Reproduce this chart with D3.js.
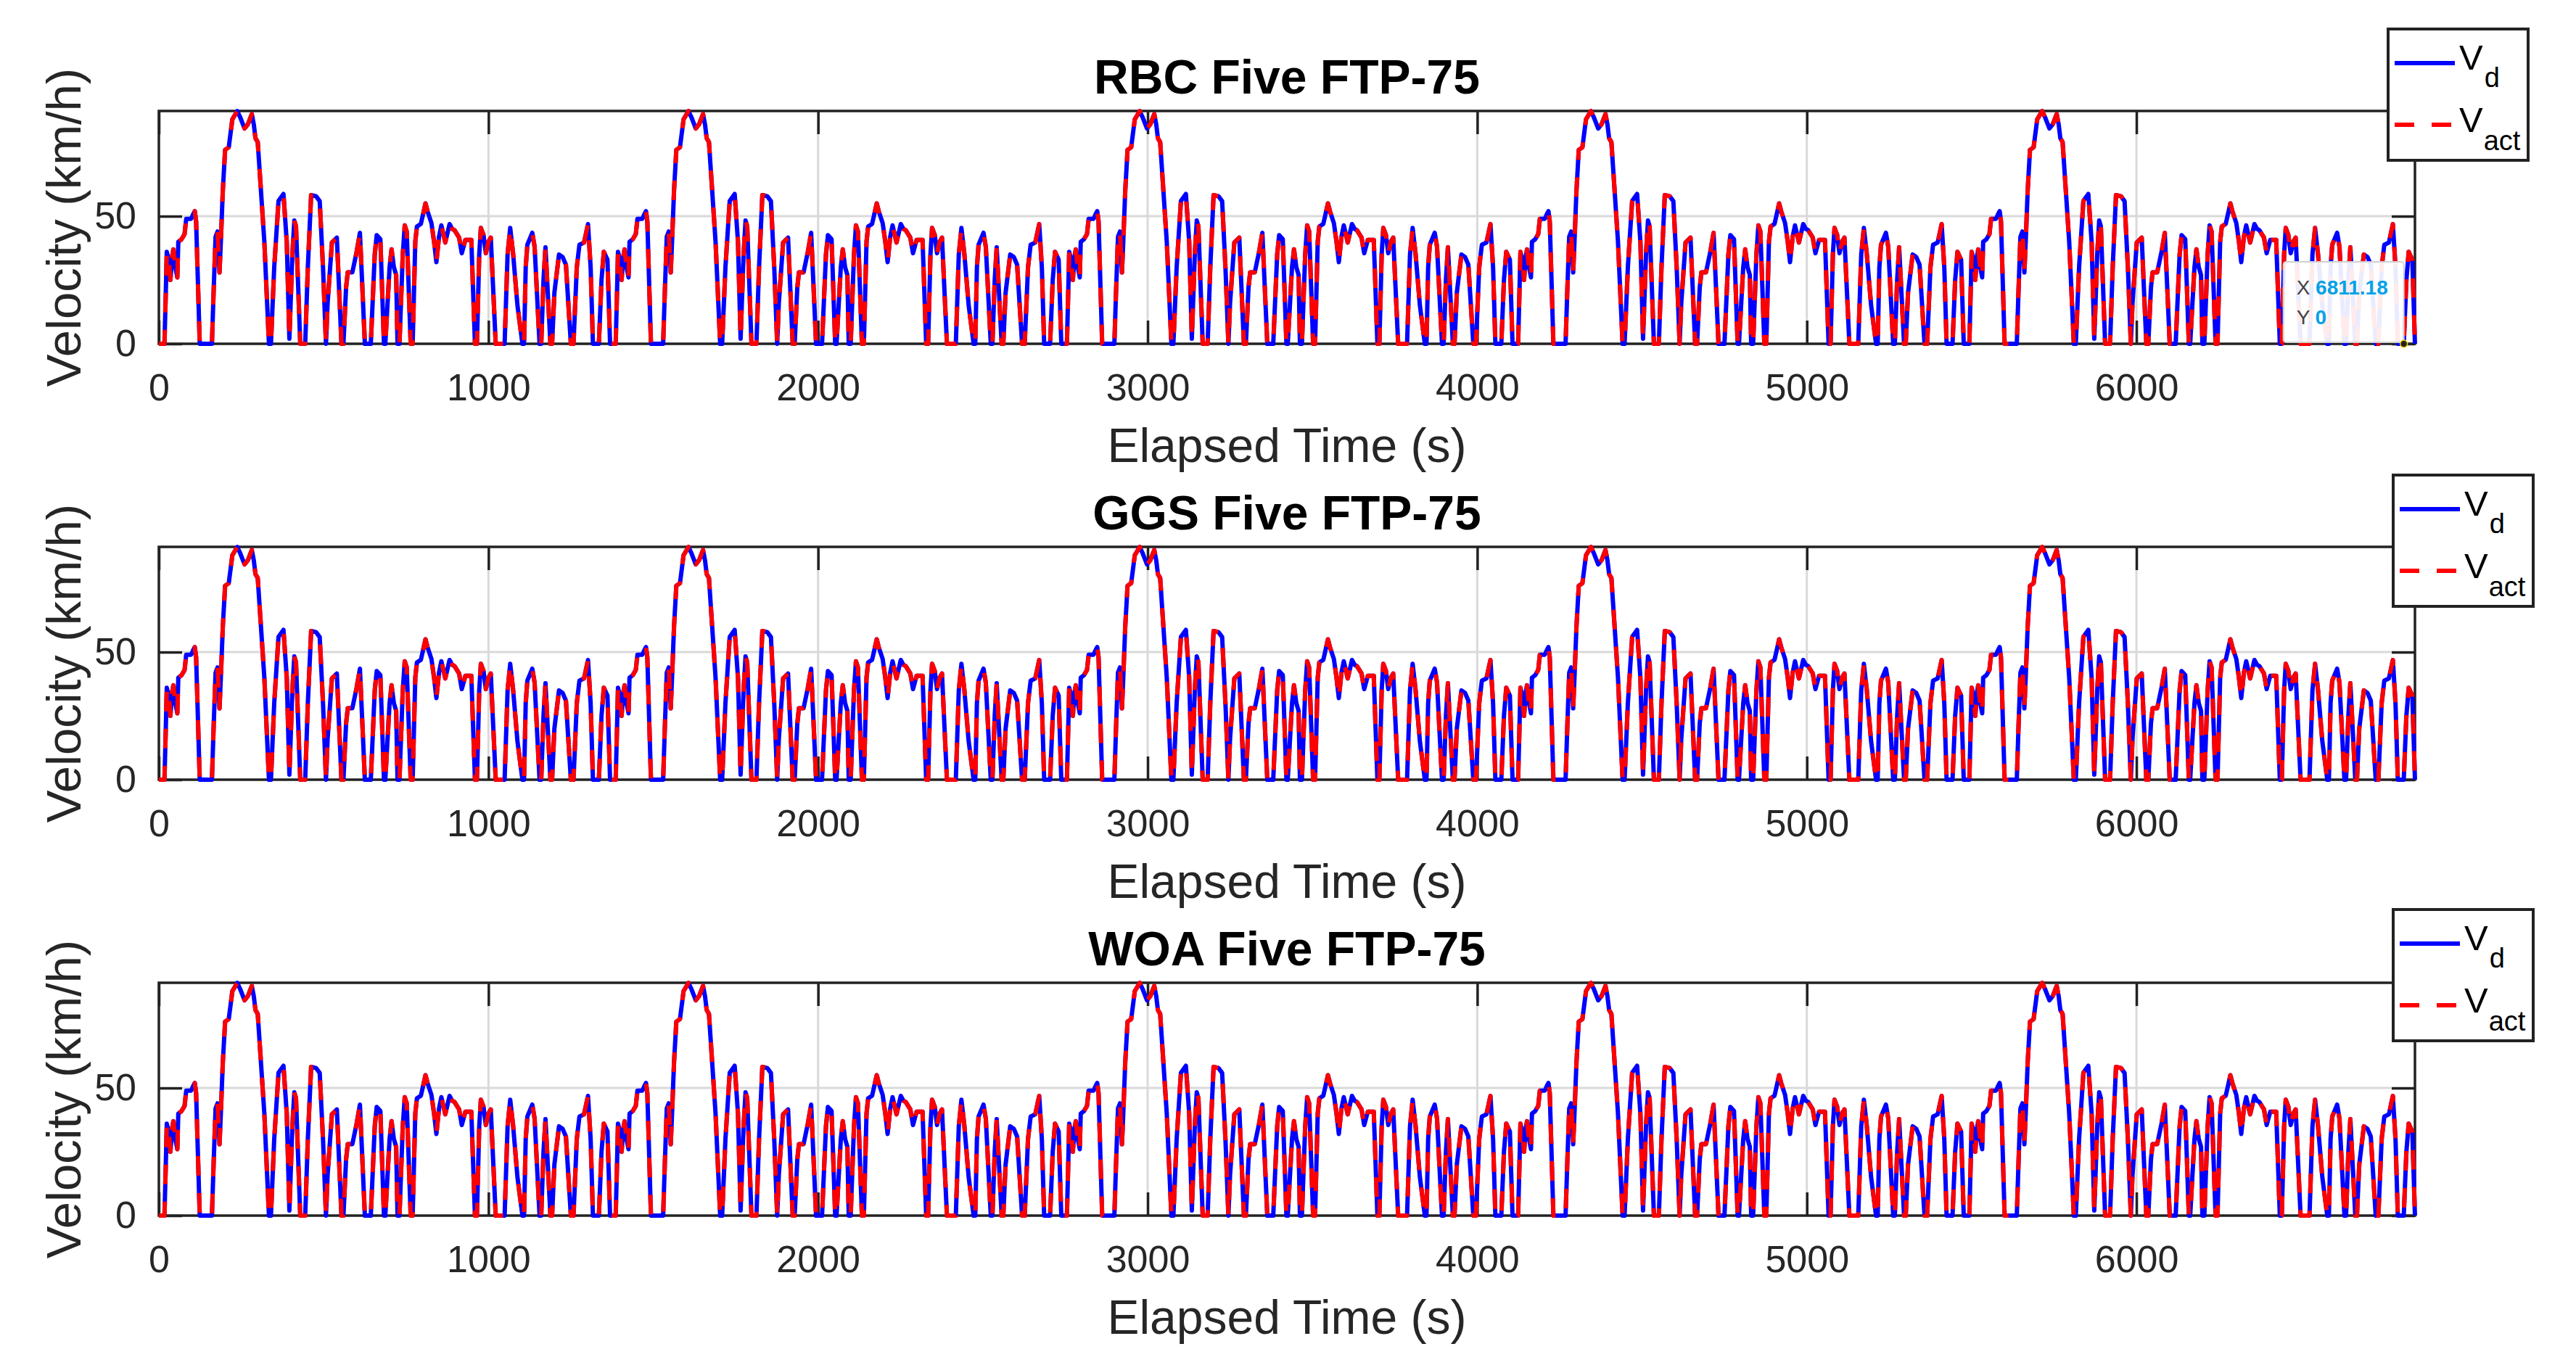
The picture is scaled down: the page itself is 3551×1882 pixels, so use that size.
<!DOCTYPE html>
<html>
<head>
<meta charset="utf-8">
<script src="https://cdn.jsdelivr.net/npm/d3@7"></script>
<style>
  body { margin: 0; background: #fff; }
  svg { display: block; font-family: "Liberation Sans", Arial, Helvetica, sans-serif; }
  .tick text { fill: #262626; }
</style>
</head>
<body>
<svg id="chart" width="3551" height="1882"></svg>
<script>
const cycleTime = [
  0, 17, 21, 24, 30, 35, 40, 44, 50, 56, 59, 69, 78, 83, 98, 105, 109, 113, 124,
  161, 166, 172, 178, 184, 188, 194, 201, 212, 223, 238, 246, 260, 270, 282, 288, 293, 300, 320, 334,
  340, 350, 363, 378, 388, 396, 405, 411, 416, 429,
  444, 452, 462, 477, 488, 498, 507, 512, 525, 540, 554,
  560, 568, 573, 587, 600, 610, 625, 643, 655, 661, 672, 683,
  687, 700, 706, 713, 720, 724, 730, 740, 746, 752, 764,
  770, 778, 783, 795, 809, 815, 827, 835, 842, 850, 857, 869, 882, 890, 897, 911, 919, 930, 948, 959,
  965, 972, 977, 985, 992, 1000, 1007, 1022,
  1049, 1058, 1066, 1075, 1088, 1103, 1108, 1113, 1118, 1133, 1140, 1155,
  1160, 1167, 1173, 1180, 1188, 1193, 1200, 1214, 1225, 1235, 1250,
  1258, 1268, 1276, 1290, 1302, 1310, 1317, 1335, 1343, 1350, 1361, 1369
];
const cycleSpeed = [
  0, 0, 20, 36, 33, 25, 34, 37, 30, 26, 40, 41, 43, 49, 49, 51, 52, 48, 0,
  0, 20, 42, 44, 28, 40, 60, 76, 77, 88, 91.2, 89, 84.4, 86, 90, 86, 80.6, 79, 40, 0,
  0, 30, 56, 58.7, 40, 2, 35, 48.3, 46, 0,
  0, 30, 58.3, 57.8, 55.9, 30, 0, 16, 39.7, 41.6, 0,
  0, 22, 28, 28, 36, 43.5, 0, 0, 35, 42.6, 41, 0,
  0, 30, 37, 30, 27, 0, 0, 35, 46.4, 44, 0,
  0, 40, 46, 47, 55, 52, 47.3, 40, 32, 42, 46.4, 39.7, 46.9, 45, 44.5, 41.6, 35.5, 40.7, 40.7, 0,
  0, 35, 45.4, 42.6, 35.5, 40, 41.6, 0,
  0, 35, 45.4, 35, 15, 0, 0, 30, 38.8, 43.5, 38, 0,
  0, 25, 37.8, 20, 0, 0, 20, 35, 34, 31, 0,
  0, 30, 38.8, 39.7, 46.9, 30, 0, 0, 25, 36, 33, 0
];
const cycleStarts = [0, 1369, 2738, 4107, 5476];
const controllers = ["RBC", "GGS", "WOA"];
const xTicks = [0, 1000, 2000, 3000, 4000, 5000, 6000];
const yTicks = [0, 50];
const xMax = 6845;
const yMax = 91.25;
const tipX = 6811.18;
const tipY = 0;

// layout (pixels)
const left = 219, right = 3329;
const panels = [
  { top: 153, bottom: 474, legend: { x: 3292, y: 40 } },
  { top: 754, bottom: 1075, legend: { x: 3299, y: 655 } },
  { top: 1355, bottom: 1676, legend: { x: 3299, y: 1254 } }
];
const tickLen = 32;
const blue = "#0000ff", red = "#ff0000";
const lineW = 6;
const dash = "27 24";

const svg = d3.select("#chart");
const x = d3.scaleLinear().domain([0, xMax]).range([left, right]);

// build the five-cycle series from the read cycle
const series = cycleStarts.flatMap(s => cycleTime.map((t, i) => ({ t: s + t, v: cycleSpeed[i] })));

panels.forEach((p, k) => {
  const y = d3.scaleLinear().domain([0, yMax]).range([p.bottom, p.top]);
  const g = svg.append("g");

  // grid
  g.append("g")
    .selectAll("line")
    .data(xTicks.slice(1))
    .join("line")
    .attr("x1", d => x(d)).attr("x2", d => x(d))
    .attr("y1", p.top).attr("y2", p.bottom)
    .attr("stroke", "#d9d9d9").attr("stroke-width", 3);
  g.append("g")
    .selectAll("line")
    .data(yTicks.slice(1))
    .join("line")
    .attr("x1", left).attr("x2", right)
    .attr("y1", d => y(d)).attr("y2", d => y(d))
    .attr("stroke", "#d9d9d9").attr("stroke-width", 3);

  // axes, ticks pointing inward
  const styleAxis = sel => {
    sel.select(".domain").remove();
    sel.selectAll(".tick line").attr("stroke", "#222").attr("stroke-width", 3.5);
  };
  g.append("g")
    .attr("transform", `translate(0,${p.bottom})`)
    .call(d3.axisBottom(x).tickValues(xTicks).tickSize(-tickLen).tickPadding(41).tickFormat(d3.format("d")))
    .call(styleAxis)
    .selectAll("text").attr("font-size", 52).attr("font-family", null);
  g.append("g")
    .attr("transform", `translate(0,${p.top})`)
    .call(d3.axisTop(x).tickValues(xTicks).tickSize(-tickLen).tickFormat(""))
    .call(styleAxis);
  g.append("g")
    .attr("transform", `translate(${left},0)`)
    .call(d3.axisLeft(y).tickValues(yTicks).tickSize(-tickLen).tickPadding(31))
    .call(styleAxis)
    .selectAll("text").attr("font-size", 52).attr("font-family", null);
  g.append("g")
    .attr("transform", `translate(${right},0)`)
    .call(d3.axisRight(y).tickValues(yTicks).tickSize(-tickLen).tickFormat(""))
    .call(styleAxis);
  g.append("rect")
    .attr("x", left).attr("y", p.top)
    .attr("width", right - left).attr("height", p.bottom - p.top)
    .attr("fill", "none").attr("stroke", "#222").attr("stroke-width", 3.5);

  // labels
  g.append("text")
    .attr("x", (left + right) / 2).attr("y", p.top - 24)
    .attr("text-anchor", "middle")
    .attr("font-size", 66).attr("font-weight", "bold").attr("fill", "#000")
    .text(`${controllers[k]} Five FTP-75`);
  g.append("text")
    .attr("x", (left + right) / 2).attr("y", p.bottom + 163)
    .attr("text-anchor", "middle")
    .attr("font-size", 66).attr("fill", "#262626")
    .text("Elapsed Time (s)");
  g.append("text")
    .attr("transform", `translate(111,${(p.top + p.bottom) / 2}) rotate(-90)`)
    .attr("text-anchor", "middle")
    .attr("font-size", 67).attr("fill", "#262626")
    .text("Velocity (km/h)");

  // data
  const line = d3.line().x(d => x(d.t)).y(d => y(d.v));
  g.append("path")
    .datum(series)
    .attr("d", line)
    .attr("fill", "none").attr("stroke", blue).attr("stroke-width", lineW)
    .attr("stroke-linejoin", "round");
  g.append("path")
    .datum(series)
    .attr("d", line)
    .attr("fill", "none").attr("stroke", red).attr("stroke-width", lineW)
    .attr("stroke-dasharray", dash).attr("stroke-linejoin", "round");

  // legend
  const L = p.legend;
  const lg = g.append("g").attr("transform", `translate(${L.x},${L.y})`);
  lg.append("rect")
    .attr("width", 193).attr("height", 181)
    .attr("fill", "#fff").attr("stroke", "#222").attr("stroke-width", 4);
  lg.append("line")
    .attr("x1", 9).attr("x2", 92).attr("y1", 47).attr("y2", 47)
    .attr("stroke", blue).attr("stroke-width", lineW);
  lg.append("line")
    .attr("x1", 9).attr("x2", 92).attr("y1", 132).attr("y2", 132)
    .attr("stroke", red).attr("stroke-width", lineW).attr("stroke-dasharray", dash);
  const lt1 = lg.append("text").attr("x", 98).attr("y", 56).attr("font-size", 49).attr("fill", "#000");
  lt1.append("tspan").text("V");
  lt1.append("tspan").attr("font-size", 38).attr("dy", 24).attr("dx", 2).text("d");
  const lt2 = lg.append("text").attr("x", 98).attr("y", 142).attr("font-size", 49).attr("fill", "#000");
  lt2.append("tspan").text("V");
  lt2.append("tspan").attr("font-size", 38).attr("dy", 25).attr("dx", 1).text("act");

  // data tip on the first panel
  if (k === 0) {
    const px = x(tipX), py = y(tipY);
    const tip = g.append("g");
    tip.append("rect")
      .attr("x", px - 166).attr("y", py - 113)
      .attr("width", 166).attr("height", 111).attr("rx", 4)
      .attr("fill", "#fff").attr("fill-opacity", 0.92)
      .attr("stroke", "#d0d0d0").attr("stroke-width", 2);
    const r1 = tip.append("text").attr("x", px - 148).attr("y", py - 68).attr("font-size", 28);
    r1.append("tspan").attr("fill", "#444").text("X ");
    r1.append("tspan").attr("fill", "#00a2e8").attr("font-weight", "bold").text(d3.format(".2f")(tipX));
    const r2 = tip.append("text").attr("x", px - 148).attr("y", py - 27).attr("font-size", 28);
    r2.append("tspan").attr("fill", "#444").text("Y ");
    r2.append("tspan").attr("fill", "#00a2e8").attr("font-weight", "bold").text(tipY);
    tip.append("circle")
      .attr("cx", px).attr("cy", py).attr("r", 5)
      .attr("fill", "#222").attr("stroke", "#ffd400").attr("stroke-width", 1.5);
  }
});
</script>
</body>
</html>
